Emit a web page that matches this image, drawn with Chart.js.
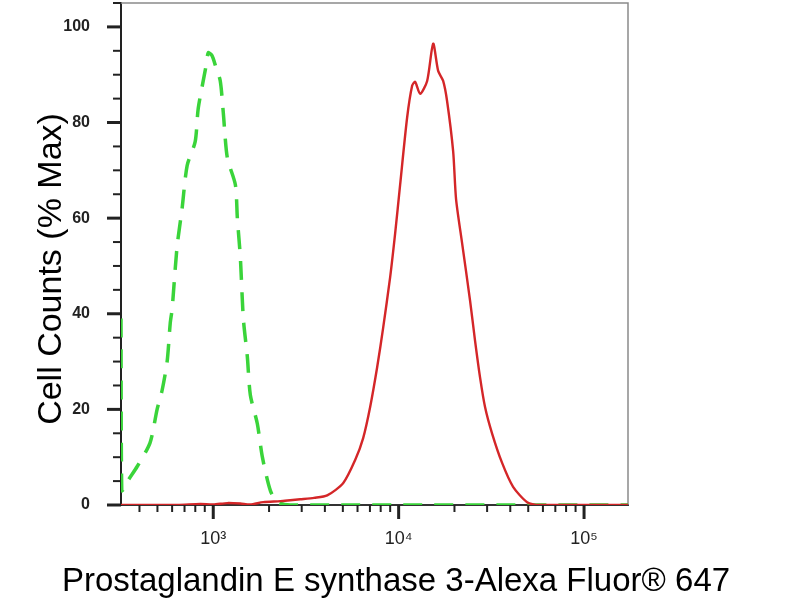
<!DOCTYPE html>
<html>
<head>
<meta charset="utf-8">
<script src="https://cdn.jsdelivr.net/npm/chart.js@4.4.1/dist/chart.umd.min.js"></script>
<style>
  html, body { margin: 0; padding: 0; background: #fff; }
  #wrap { width: 800px; height: 600px; }
</style>
</head>
<body>
<div id="wrap"><canvas id="histChart" width="800" height="600"></canvas></div>
<script>
// stained sample (red, solid)
const redX = [318, 640, 851, 1000, 1190, 1400, 1582, 1860, 2300, 2602, 2944, 3500, 4117, 5027, 5826, 6436, 7019, 7657, 8245, 8995, 9574, 10186, 11107, 11823, 12274, 13057, 14246, 15353, 16333, 17379, 18246, 19674, 20400, 21950, 24266, 25820, 27480, 29240, 31890, 36140, 41430, 49290, 57950, 172600];
const redY = [0, 0, 0.2, 0.1, 0.4, 0.3, 0.1, 0.6, 0.8, 1, 1.2, 1.5, 2, 4.6, 9.4, 14, 20.5, 28.8, 37, 47.6, 56.8, 67, 81, 87.7, 88.5, 86, 88.7, 96.5, 90.8, 88.7, 84.5, 74, 64, 55, 42.8, 34.4, 26.7, 20.5, 15, 8.8, 3.8, 0.6, 0, 0];

// isotype control (green, dashed)
const greenX = [318, 321, 336, 348, 388, 456, 498, 530, 564, 586, 600, 638, 679, 723, 799, 830, 906, 940, 985, 1026, 1091, 1133, 1191, 1316, 1349, 1400, 1453, 1527, 1585, 1729, 1841, 2033, 2218, 2600, 172600];
const greenY = [39, 3, 4, 5.2, 8, 13, 20, 24, 30, 38, 41, 54, 62, 71, 76, 83, 91, 94.6, 94, 92, 88.7, 82, 72.6, 67, 60, 51.8, 39, 31, 23, 17, 10, 3, 0.6, 0, 0];

const xMajorTicks = [1e3, 1e4, 1e5];
const xTickLabels = ['10³', '10⁴', '10⁵'];
const yLabelStep = 20;

const xTitle = 'Prostaglandin E synthase 3-Alexa Fluor® 647';
const yTitle = 'Cell Counts (% Max)';

Chart.defaults.font.family = '"Liberation Sans", Arial, sans-serif';
Chart.defaults.color = '#000';

function toPoints(xs, ys) {
  return xs.map((x, i) => ({ x: x, y: ys[i] }));
}

// minor log ticks 1..9 for every decade in range
function logTicks(min, max) {
  const out = [];
  for (let e = 2; e <= 5; e++) {
    for (let m = 1; m <= 9; m++) {
      const v = m * Math.pow(10, e);
      if (v >= min && v <= max) out.push({ value: v });
    }
  }
  return out;
}

// tick marks of two lengths, grey frame, and axis titles
const axisDecor = {
  id: 'axisDecor',
  beforeDatasetsDraw(chart) {
    const { ctx, chartArea: a } = chart;
    ctx.save();
    ctx.strokeStyle = '#8a8a8a';
    ctx.lineWidth = 1.5;
    ctx.beginPath();
    ctx.moveTo(a.left, a.top);
    ctx.lineTo(a.right, a.top);
    ctx.lineTo(a.right, a.bottom);
    ctx.stroke();
    ctx.restore();
  },
  afterDraw(chart) {
    const { ctx, chartArea: a, scales } = chart;
    ctx.save();
    ctx.strokeStyle = '#222';
    scales.y.ticks.forEach(t => {
      const y = scales.y.getPixelForValue(t.value);
      const major = t.value % yLabelStep === 0;
      ctx.lineWidth = major ? 3 : 2;
      ctx.beginPath();
      ctx.moveTo(a.left - (major ? 14 : 8), y);
      ctx.lineTo(a.left, y);
      ctx.stroke();
    });
    scales.x.ticks.forEach(t => {
      const x = scales.x.getPixelForValue(t.value);
      const major = xMajorTicks.includes(t.value);
      ctx.lineWidth = major ? 3 : 2;
      ctx.beginPath();
      ctx.moveTo(x, a.bottom);
      ctx.lineTo(x, a.bottom + (major ? 14 : 7));
      ctx.stroke();
    });

    ctx.fillStyle = '#000';
    ctx.font = '33px "Liberation Sans", Arial, sans-serif';
    ctx.textAlign = 'center';
    ctx.textBaseline = 'alphabetic';
    ctx.fillText(xTitle, 396, 591);
    ctx.font = '34px "Liberation Sans", Arial, sans-serif';
    ctx.translate(61, 269);
    ctx.rotate(-Math.PI / 2);
    ctx.fillText(yTitle, 0, 0);
    ctx.restore();
  }
};

new Chart(document.getElementById('histChart'), {
  type: 'line',
  data: {
    datasets: [{
      label: 'Prostaglandin E synthase 3',
      data: toPoints(redX, redY),
      borderColor: 'rgb(212, 38, 40)',
      borderWidth: 2.4,
      pointRadius: 0,
      tension: 0.25,
      fill: false
    }, {
      label: 'Isotype control',
      data: toPoints(greenX, greenY),
      borderColor: 'rgb(58, 212, 58)',
      borderWidth: 3.5,
      borderDash: [19, 12],
      pointRadius: 0,
      tension: 0.25,
      fill: false
    }]
  },
  options: {
    responsive: false,
    animation: false,
    layout: { padding: { left: 0, right: 172, top: 3, bottom: 0 } },
    plugins: {
      legend: { display: false },
      tooltip: { enabled: false }
    },
    scales: {
      x: {
        type: 'logarithmic',
        min: 318,
        max: 172600,
        afterBuildTicks: s => { s.ticks = logTicks(s.min, s.max); },
        afterFit: s => { s.height = 95; s.paddingLeft = 0; s.paddingRight = 0; },
        grid: { display: false, drawTicks: false },
        border: { display: true, color: '#333', width: 2 },
        ticks: {
          autoSkip: false,
          maxRotation: 0,
          padding: 23,
          color: '#222',
          font: { size: 18 },
          callback: v => {
            const i = xMajorTicks.indexOf(v);
            return i >= 0 ? xTickLabels[i] : '';
          }
        }
      },
      y: {
        min: 0,
        max: 105,
        afterFit: s => { s.width = 121; s.paddingTop = 0; s.paddingBottom = 0; },
        grid: { display: false, drawTicks: false },
        border: { display: true, color: '#222', width: 2 },
        ticks: {
          stepSize: 5,
          autoSkip: false,
          padding: 31,
          color: '#222',
          font: { size: 16, weight: 'bold' },
          callback: v => (v % yLabelStep === 0 ? v : '')
        }
      }
    }
  },
  plugins: [axisDecor]
});
</script>
</body>
</html>
